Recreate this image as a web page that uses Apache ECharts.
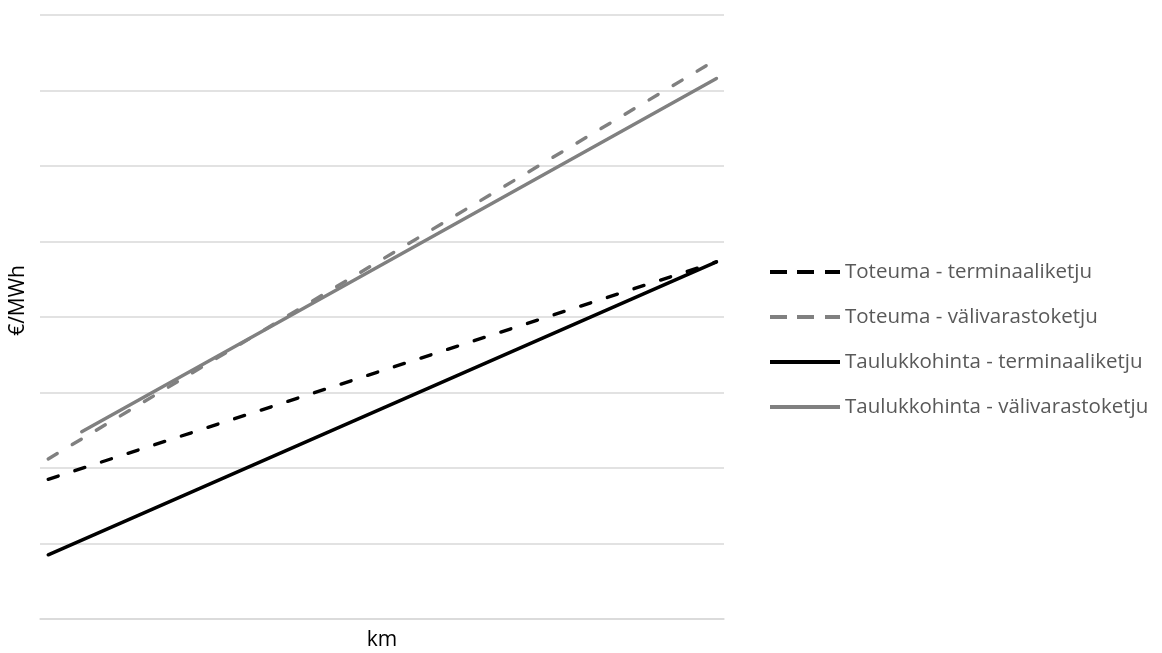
<!DOCTYPE html>
<html>
<head>
<meta charset="utf-8">
<script src="https://cdn.jsdelivr.net/npm/echarts@6/dist/echarts.min.js"></script>
<style>html,body{margin:0;padding:0;background:#fff;}#c{width:1162px;height:653px;}</style>
</head>
<body>
<div id="c"></div>
<script>
// Data (x: relative km position on a 0-100 scale, y: €/MWh on a 0-80 scale; axes unlabeled in source)
const seriesNames = [
  'Toteuma - terminaaliketju',
  'Toteuma - välivarastoketju',
  'Taulukkohinta - terminaaliketju',
  'Taulukkohinta - välivarastoketju'
];
const toteumaTerminaali = [[1.2, 18.5], [98.9, 47.3]];
const toteumaValivarasto = [[1.2, 21.2], [97.8, 73.5]];
const taulukkoTerminaali = [[1.2, 8.5], [98.9, 47.3]];
const taulukkoValivarasto = [[6.1, 24.8], [98.9, 71.6]];
const xAxisName = 'km';
const yAxisName = '€/MWh';

const chart = echarts.init(document.getElementById('c'), null, {renderer: 'canvas'});
const font = '"Open Sans", "Noto Sans", sans-serif';
const BLACK = '#000000', GRAY = '#808080';
const DASH_ICON = 'path://M0,0h17v4h-17z M27,0h17v4h-17z M55,0h15v4h-15z';
const SOLID_ICON = 'path://M0,0h70v4h-70z';
function mk(name, data, color, dashed) {
  return {
    name: name, type: 'line', data: data, symbol: 'none', silent: true,
    lineStyle: {color: color, width: 3.4, type: dashed ? [10.5, 17.5] : 'solid', cap: 'round'},
    itemStyle: {color: color}
  };
}
chart.setOption({
  animation: false,
  backgroundColor: '#ffffff',
  textStyle: {fontFamily: font},
  grid: {left: 40, right: 438, top: 15, bottom: 34, outerBoundsMode: 'none', containLabel: false},
  xAxis: {
    type: 'value', min: 0, max: 100,
    name: xAxisName, nameLocation: 'middle', nameGap: 11,
    nameTextStyle: {fontSize: 21, color: '#000', fontFamily: font},
    axisLine: {show: true, lineStyle: {color: '#d9d9d9', width: 1.5}},
    axisTick: {show: false}, axisLabel: {show: false}, splitLine: {show: false}
  },
  yAxis: {
    type: 'value', min: 0, max: 80, interval: 10,
    axisLine: {show: false}, axisTick: {show: false}, axisLabel: {show: false},
    splitLine: {show: true, lineStyle: {color: '#d9d9d9', width: 1.5}}
  },
  legend: {
    orient: 'vertical', left: 765, top: 255,
    itemWidth: 70, itemHeight: 4, itemGap: 21,
    textStyle: {fontSize: 20.5, lineHeight: 24, color: '#595959', fontFamily: font},
    data: [
      {name: seriesNames[0], icon: DASH_ICON, itemStyle: {color: BLACK}},
      {name: seriesNames[1], icon: DASH_ICON, itemStyle: {color: GRAY}},
      {name: seriesNames[2], icon: SOLID_ICON, itemStyle: {color: BLACK}},
      {name: seriesNames[3], icon: SOLID_ICON, itemStyle: {color: GRAY}}
    ]
  },
  graphic: [{
    type: 'text', left: 8, top: 265, rotation: Math.PI / 2,
    style: {text: yAxisName, fontSize: 21, fill: '#000', fontFamily: font}
  }],
  series: [
    mk(seriesNames[0], toteumaTerminaali, BLACK, true),
    mk(seriesNames[1], toteumaValivarasto, GRAY, true),
    mk(seriesNames[2], taulukkoTerminaali, BLACK, false),
    mk(seriesNames[3], taulukkoValivarasto, GRAY, false)
  ]
});
</script>
</body>
</html>
